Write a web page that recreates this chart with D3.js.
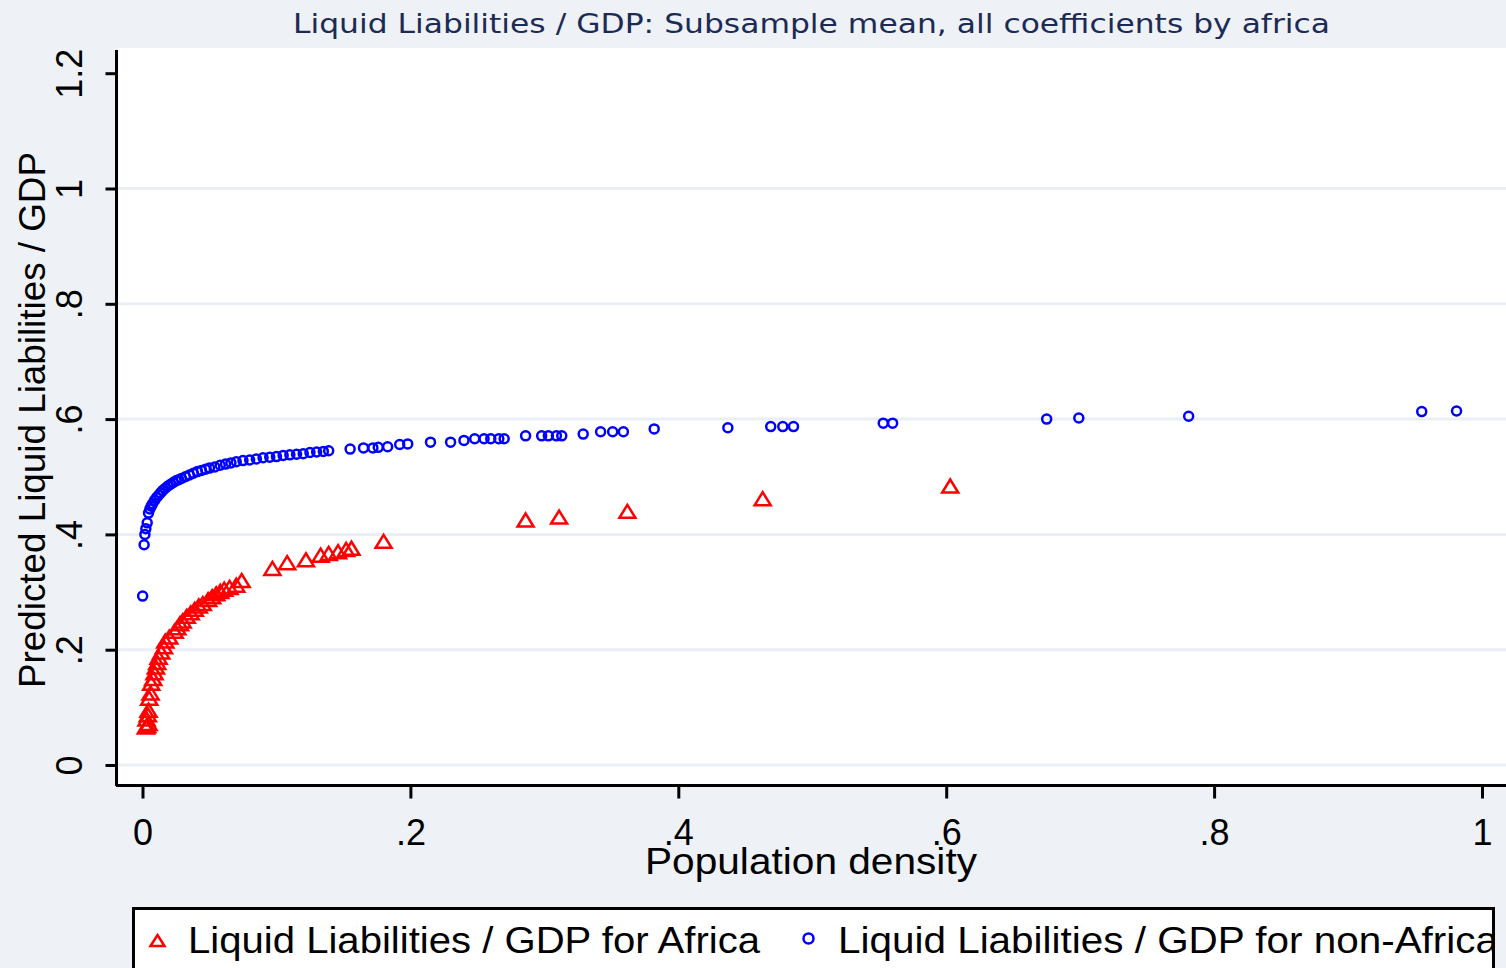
<!DOCTYPE html>
<html>
<head>
<meta charset="utf-8">
<script src="https://d3js.org/d3.v7.min.js"></script>
<style>
  body { margin: 0; background: #eef2f7; }
  svg { display: block; }
</style>
</head>
<body>
<div id="chart"></div>
<script>
// Population density (x) and predicted liquid liabilities / GDP (y), Africa
var africaX = [0.0025, 0.0035, 0.0045, 0.003, 0.004, 0.0045, 0.005, 0.006, 0.0065, 0.008,
  0.009, 0.010, 0.011, 0.012, 0.014, 0.016, 0.017, 0.020, 0.024, 0.026,
  0.028, 0.030, 0.033, 0.036, 0.039, 0.042, 0.045, 0.049, 0.052, 0.055,
  0.058, 0.061, 0.065, 0.070, 0.074, 0.097, 0.108, 0.122, 0.133, 0.139,
  0.146, 0.152, 0.156, 0.180, 0.286, 0.311, 0.362, 0.463, 0.603];
var africaY = [0.066, 0.068, 0.072, 0.080, 0.087, 0.095, 0.116, 0.125, 0.142, 0.150,
  0.160, 0.170, 0.178, 0.187, 0.196, 0.205, 0.215, 0.222, 0.232, 0.238,
  0.245, 0.250, 0.258, 0.264, 0.270, 0.276, 0.280, 0.287, 0.292, 0.297,
  0.301, 0.305, 0.308, 0.312, 0.320, 0.341, 0.351, 0.356, 0.364, 0.367,
  0.370, 0.374, 0.376, 0.388, 0.425, 0.430, 0.440, 0.462, 0.484];

// same, non-Africa
var otherX = [0.0001, 0.0012, 0.0018, 0.0025, 0.0035, 0.0045, 0.0055, 0.0065, 0.0075, 0.009,
  0.0105, 0.012, 0.0135, 0.015, 0.017, 0.019, 0.021, 0.023, 0.025, 0.027,
  0.029, 0.032, 0.035, 0.038, 0.041, 0.044, 0.047, 0.050, 0.054, 0.058,
  0.062, 0.066, 0.070, 0.075, 0.080, 0.085, 0.090, 0.095, 0.100, 0.105,
  0.110, 0.115, 0.120, 0.125, 0.130, 0.135, 0.139, 0.155, 0.165, 0.172,
  0.176, 0.183, 0.192, 0.198, 0.215, 0.230, 0.240, 0.248, 0.255, 0.260,
  0.266, 0.270, 0.286, 0.298, 0.303, 0.309, 0.313, 0.329, 0.342, 0.351,
  0.359, 0.382, 0.437, 0.469, 0.478, 0.486, 0.553, 0.560, 0.675, 0.699,
  0.781, 0.955, 0.981];
var otherY = [0.293, 0.382, 0.400, 0.410, 0.420, 0.437, 0.444, 0.449, 0.453, 0.459,
  0.464, 0.468, 0.472, 0.476, 0.480, 0.484, 0.487, 0.490, 0.493, 0.495,
  0.497, 0.500, 0.503, 0.506, 0.509, 0.511, 0.513, 0.515, 0.517, 0.520,
  0.522, 0.524, 0.526, 0.528, 0.529, 0.531, 0.533, 0.534, 0.535, 0.537,
  0.538, 0.539, 0.540, 0.542, 0.543, 0.544, 0.545, 0.548, 0.550, 0.550,
  0.551, 0.552, 0.556, 0.557, 0.560, 0.560, 0.563, 0.566, 0.566, 0.566,
  0.566, 0.566, 0.571, 0.571, 0.571, 0.571, 0.571, 0.574, 0.578, 0.578,
  0.578, 0.583, 0.585, 0.587, 0.587, 0.587, 0.593, 0.593, 0.600, 0.602,
  0.605, 0.613, 0.614];

var xTicks = [0, 0.2, 0.4, 0.6, 0.8, 1];
var xTickLabels = ["0", ".2", ".4", ".6", ".8", "1"];
var yTicks = [0, 0.2, 0.4, 0.6, 0.8, 1, 1.2];
var yTickLabels = ["0", ".2", ".4", ".6", ".8", "1", "1.2"];
var legendLabels = ["Liquid Liabilities / GDP for Africa", "Liquid Liabilities / GDP for non-Africa"];

var width = 1506, height = 968;
var font = "'Liberation Sans', Arial, sans-serif";

var svg = d3.select("#chart").append("svg")
  .attr("width", width)
  .attr("height", height);

svg.append("rect")
  .attr("width", width).attr("height", height)
  .attr("fill", "#eef2f7");

// plot region
svg.append("rect")
  .attr("x", 118).attr("y", 48)
  .attr("width", width - 118).attr("height", 736)
  .attr("fill", "#ffffff");

var x = d3.scaleLinear().domain([0, 1]).range([142.5, 1482]);
var y = d3.scaleLinear().domain([0, 1.2]).range([765, 73.2]);

// gridlines (none at the top tick)
svg.append("g").selectAll("line")
  .data(yTicks.filter(function(d) { return d < 1.1; }))
  .enter().append("line")
  .attr("x1", 118).attr("x2", width)
  .attr("y1", function(d) { return y(d); })
  .attr("y2", function(d) { return y(d); })
  .attr("stroke", "#eaeff6")
  .attr("stroke-width", 3);

// y axis
var yAxis = svg.append("g")
  .attr("transform", "translate(116.5,0)")
  .call(d3.axisLeft(y).tickValues(yTicks).tickSize(11).tickFormat(""));
yAxis.select(".domain").attr("d", "M0,50V786").attr("stroke", "#000").attr("stroke-width", 3);
yAxis.selectAll(".tick line").attr("stroke", "#000").attr("stroke-width", 3);

yAxis.selectAll(".tick").append("text")
  .attr("transform", "translate(-34.5,0) rotate(-90)")
  .attr("text-anchor", "middle")
  .attr("x", 0).attr("y", 0)
  .attr("fill", "#000")
  .style("font-family", font)
  .style("font-size", "36px")
  .text(function(d, i) { return yTickLabels[i]; });

// x axis
var xAxis = svg.append("g")
  .attr("transform", "translate(0,785.5)")
  .call(d3.axisBottom(x).tickValues(xTicks).tickSize(13).tickFormat(""));
xAxis.select(".domain").attr("d", "M116,0H" + width).attr("stroke", "#000").attr("stroke-width", 3);
xAxis.selectAll(".tick line").attr("stroke", "#000").attr("stroke-width", 3);

xAxis.selectAll(".tick").append("text")
  .attr("x", 0).attr("y", 59.5)
  .attr("text-anchor", "middle")
  .attr("fill", "#000")
  .style("font-family", font)
  .style("font-size", "36px")
  .text(function(d, i) { return xTickLabels[i]; });

// titles
svg.append("text")
  .attr("x", 811.5).attr("y", 33)
  .attr("text-anchor", "middle")
  .attr("fill", "#1c2b55")
  .attr("textLength", 1037)
  .attr("lengthAdjust", "spacingAndGlyphs")
  .style("font-family", "'DejaVu Sans', sans-serif")
  .style("font-size", "26px")
  .text("Liquid Liabilities / GDP: Subsample mean, all coefficients by africa");

svg.append("text")
  .attr("x", 811).attr("y", 874)
  .attr("text-anchor", "middle")
  .attr("fill", "#000")
  .attr("textLength", 332)
  .attr("lengthAdjust", "spacingAndGlyphs")
  .style("font-family", font)
  .style("font-size", "36px")
  .text("Population density");

svg.append("text")
  .attr("transform", "translate(45,420) rotate(-90)")
  .attr("text-anchor", "middle")
  .attr("fill", "#000")
  .attr("textLength", 536)
  .attr("lengthAdjust", "spacingAndGlyphs")
  .style("font-family", font)
  .style("font-size", "37px")
  .text("Predicted Liquid Liabilities / GDP");

// markers
var triPath = "M0,-6.5L8,6.5L-8,6.5Z";
var africa = africaX.map(function(d, i) { return {x: d, y: africaY[i]}; });
var other = otherX.map(function(d, i) { return {x: d, y: otherY[i]}; });

svg.append("g").selectAll("path")
  .data(africa)
  .enter().append("path")
  .attr("d", triPath)
  .attr("transform", function(d) { return "translate(" + x(d.x) + "," + y(d.y) + ")"; })
  .attr("fill", "none")
  .attr("stroke", "#ff0000")
  .attr("stroke-width", 2.5);

svg.append("g").selectAll("circle")
  .data(other)
  .enter().append("circle")
  .attr("cx", function(d) { return x(d.x); })
  .attr("cy", function(d) { return y(d.y); })
  .attr("r", 4.5)
  .attr("fill", "none")
  .attr("stroke", "#0000ff")
  .attr("stroke-width", 2.5);

// legend
svg.append("clipPath").attr("id", "legclip")
  .append("rect").attr("x", 133).attr("y", 908).attr("width", 1359).attr("height", 80);

svg.append("rect")
  .attr("x", 133.5).attr("y", 908.5)
  .attr("width", 1360).attr("height", 100)
  .attr("fill", "#ffffff")
  .attr("stroke", "#000")
  .attr("stroke-width", 3);

svg.append("path")
  .attr("d", "M0,-5.5L7,5.5L-7,5.5Z")
  .attr("transform", "translate(157.5,940.5)")
  .attr("fill", "none")
  .attr("stroke", "#ff0000")
  .attr("stroke-width", 2.5);

svg.append("circle")
  .attr("cx", 808.5).attr("cy", 938.5).attr("r", 5)
  .attr("fill", "none")
  .attr("stroke", "#0000ff")
  .attr("stroke-width", 2.5);

var legText = svg.append("g").attr("clip-path", "url(#legclip)");
legText.append("text")
  .attr("x", 188).attr("y", 953)
  .attr("textLength", 572)
  .attr("lengthAdjust", "spacingAndGlyphs")
  .attr("fill", "#000")
  .style("font-family", font)
  .style("font-size", "36px")
  .text(legendLabels[0]);
legText.append("text")
  .attr("x", 838).attr("y", 953)
  .attr("textLength", 660)
  .attr("lengthAdjust", "spacingAndGlyphs")
  .attr("fill", "#000")
  .style("font-family", font)
  .style("font-size", "36px")
  .text(legendLabels[1]);
</script>
</body>
</html>
